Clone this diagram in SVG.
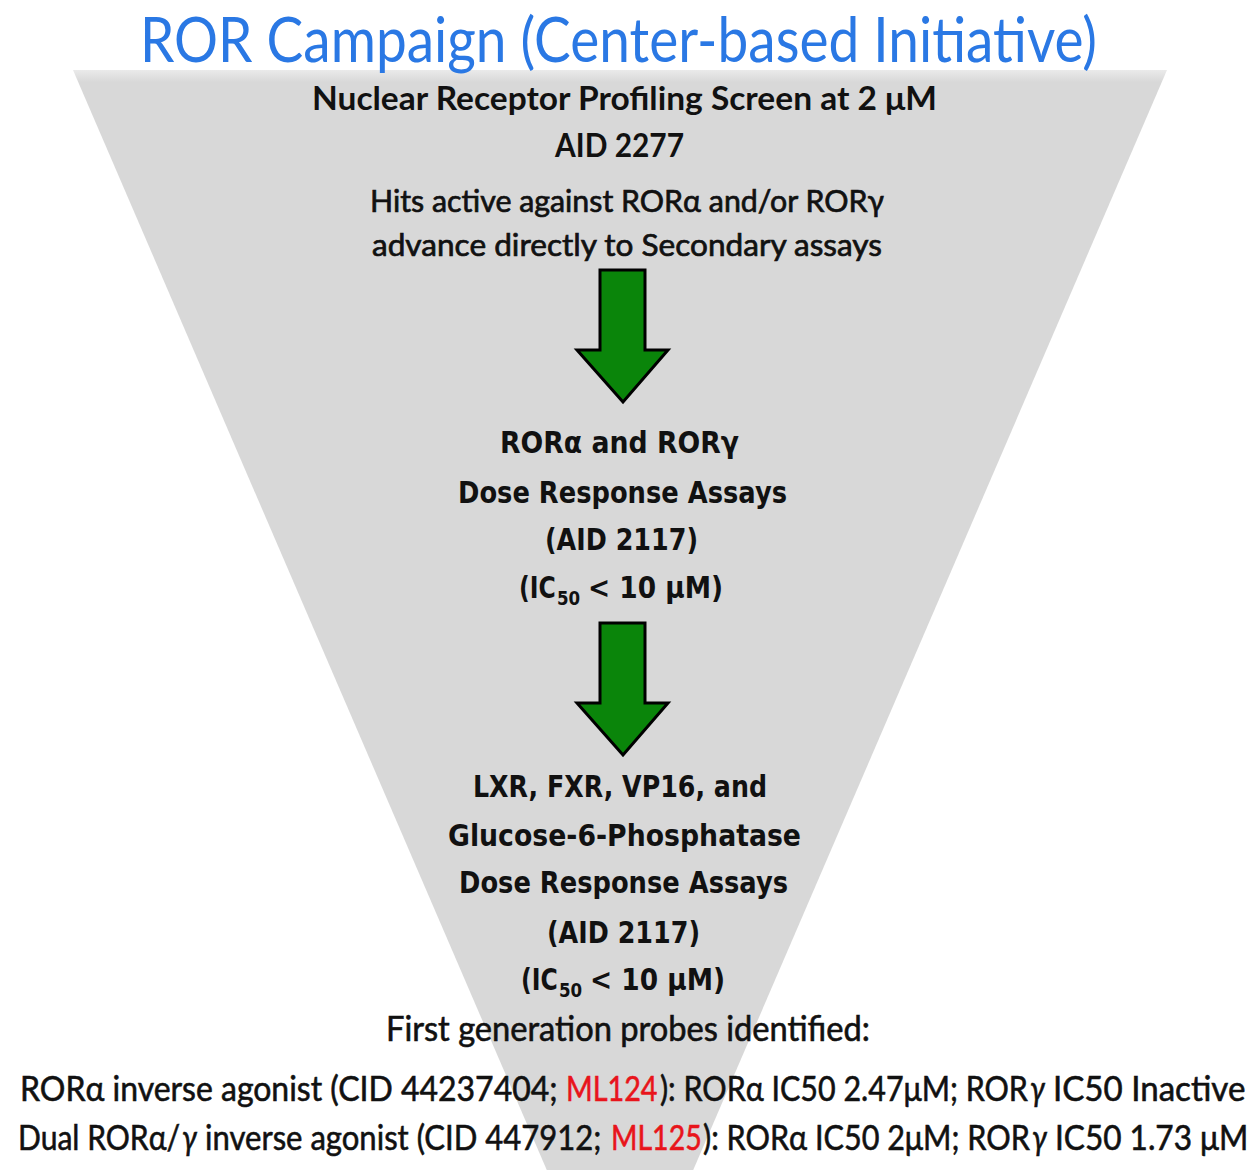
<svg xmlns="http://www.w3.org/2000/svg" width="1258" height="1170" viewBox="0 0 1258 1170">
<style>
.t{font-family:Lato,"Open Sans","Liberation Sans",sans-serif;fill:#111}
.b{font-weight:bold}
.w{font-family:"DejaVu Sans",Verdana,sans-serif;font-weight:bold;fill:#111}
.n{stroke:#111;stroke-width:0.7}
.m{stroke:#111;stroke-width:0.6;font-size:35px}
.red{fill:#e8141b;stroke:#e8141b}
.i{font-style:italic}
.arr{fill:#0a850a;stroke:#000;stroke-width:3;stroke-linejoin:miter}
</style>
<defs>
<linearGradient id="tg" gradientUnits="userSpaceOnUse" x1="0" y1="68" x2="0" y2="82">
<stop offset="0" stop-color="#ededed"/>
<stop offset="1" stop-color="#d8d8d8"/>
</linearGradient>
</defs>
<rect width="1258" height="1170" fill="#fff"/>
<polygon id="funnel" points="73,70 1167,70 620,1340" fill="url(#tg)"/>
<g id="title">
<text x="140" y="62" font-size="62" textLength="957" lengthAdjust="spacingAndGlyphs" style="font-family:Lato,'Open Sans',sans-serif;fill:#2a78e4">ROR Campaign (Center-based Initiative)</text>
</g>
<g id="stage1">
<text class="t b" x="312" y="110" font-size="33" textLength="625" lengthAdjust="spacingAndGlyphs">Nuclear Receptor Profiling Screen at 2 μM</text>
<text class="t b" x="555" y="157" font-size="33" textLength="129" lengthAdjust="spacingAndGlyphs">AID 2277</text>
<text class="t n" x="370" y="212" font-size="31" textLength="514" lengthAdjust="spacingAndGlyphs">Hits active against RORα and/or RORγ</text>
<text class="t n" x="372" y="256" font-size="31" textLength="510" lengthAdjust="spacingAndGlyphs">advance  directly to Secondary assays</text>
</g>
<g id="connectors">
<path id="arrow1" class="arr" d="M600,270 H645 V350 H668 L623,402 L577,350 H600 Z"/>
<path id="arrow2" class="arr" d="M600,623 H645 V703 H668 L623,755 L577,703 H600 Z"/>
</g>
<g id="stage2">
<text class="w" x="500" y="453" font-size="30" textLength="239" lengthAdjust="spacingAndGlyphs">RORα and RORγ</text>
<text class="w" x="458" y="503" font-size="30" textLength="329" lengthAdjust="spacingAndGlyphs">Dose Response Assays</text>
<text class="w" x="545" y="550" font-size="30" textLength="153" lengthAdjust="spacingAndGlyphs">(AID 2117)</text>
<text class="w" transform="translate(519,598) scale(0.8,1)" font-size="30" textLength="46" lengthAdjust="spacingAndGlyphs">(IC</text>
<text class="w" transform="translate(557,605) scale(0.8,1)" font-size="20" textLength="29" lengthAdjust="spacingAndGlyphs">50</text>
<text class="w" transform="translate(588,598) scale(0.8,1)" font-size="30" textLength="169" lengthAdjust="spacingAndGlyphs">&lt; 10 μM)</text>
</g>
<g id="stage3">
<text class="w" x="473" y="797" font-size="30" textLength="294" lengthAdjust="spacingAndGlyphs">LXR, FXR, VP16, and</text>
<text class="w" x="448" y="846" font-size="30" textLength="353" lengthAdjust="spacingAndGlyphs">Glucose-6-Phosphatase</text>
<text class="w" x="459" y="893" font-size="30" textLength="329" lengthAdjust="spacingAndGlyphs">Dose Response Assays</text>
<text class="w" x="547" y="943" font-size="30" textLength="153" lengthAdjust="spacingAndGlyphs">(AID 2117)</text>
<text class="w" transform="translate(521,990) scale(0.8,1)" font-size="30" textLength="46" lengthAdjust="spacingAndGlyphs">(IC</text>
<text class="w" transform="translate(559,997) scale(0.8,1)" font-size="20" textLength="29" lengthAdjust="spacingAndGlyphs">50</text>
<text class="w" transform="translate(590,990) scale(0.8,1)" font-size="30" textLength="169" lengthAdjust="spacingAndGlyphs">&lt; 10 μM)</text>
</g>
<g id="results">
<text class="t m" transform="translate(386,1041) scale(0.82,1)" textLength="590" lengthAdjust="spacingAndGlyphs" style="font-size:34px">First generation probes identified:</text>
<text class="t m" transform="translate(20,1101) scale(0.84,1)" textLength="640" lengthAdjust="spacingAndGlyphs">RORα inverse agonist  (CID 44237404;</text>
<text class="t m red" transform="translate(566,1101) scale(0.84,1)" textLength="109" lengthAdjust="spacingAndGlyphs">ML124</text>
<text class="t m" transform="translate(660,1101) scale(0.84,1)" textLength="438" lengthAdjust="spacingAndGlyphs">): RORα IC50 2.47μM; ROR</text>
<text class="t m i" transform="translate(1030,1101) scale(0.84,1)">γ</text>
<text class="t m" transform="translate(1053,1101) scale(0.84,1)" textLength="229" lengthAdjust="spacingAndGlyphs">IC50 Inactive</text>
<text class="t m" transform="translate(18,1150) scale(0.84,1)" textLength="193" lengthAdjust="spacingAndGlyphs">Dual RORα/</text>
<text class="t m i" transform="translate(182,1150) scale(0.84,1)">γ</text>
<text class="t m" transform="translate(205,1150) scale(0.84,1)" textLength="472" lengthAdjust="spacingAndGlyphs">inverse agonist (CID 447912;</text>
<text class="t m red" transform="translate(611,1150) scale(0.84,1)" textLength="108" lengthAdjust="spacingAndGlyphs">ML125</text>
<text class="t m" transform="translate(703,1150) scale(0.84,1)" textLength="389" lengthAdjust="spacingAndGlyphs">): RORα IC50 2μM; ROR</text>
<text class="t m i" transform="translate(1032,1150) scale(0.84,1)">γ</text>
<text class="t m" transform="translate(1055,1150) scale(0.84,1)" textLength="230" lengthAdjust="spacingAndGlyphs">IC50 1.73 μM</text>
</g>
</svg>
